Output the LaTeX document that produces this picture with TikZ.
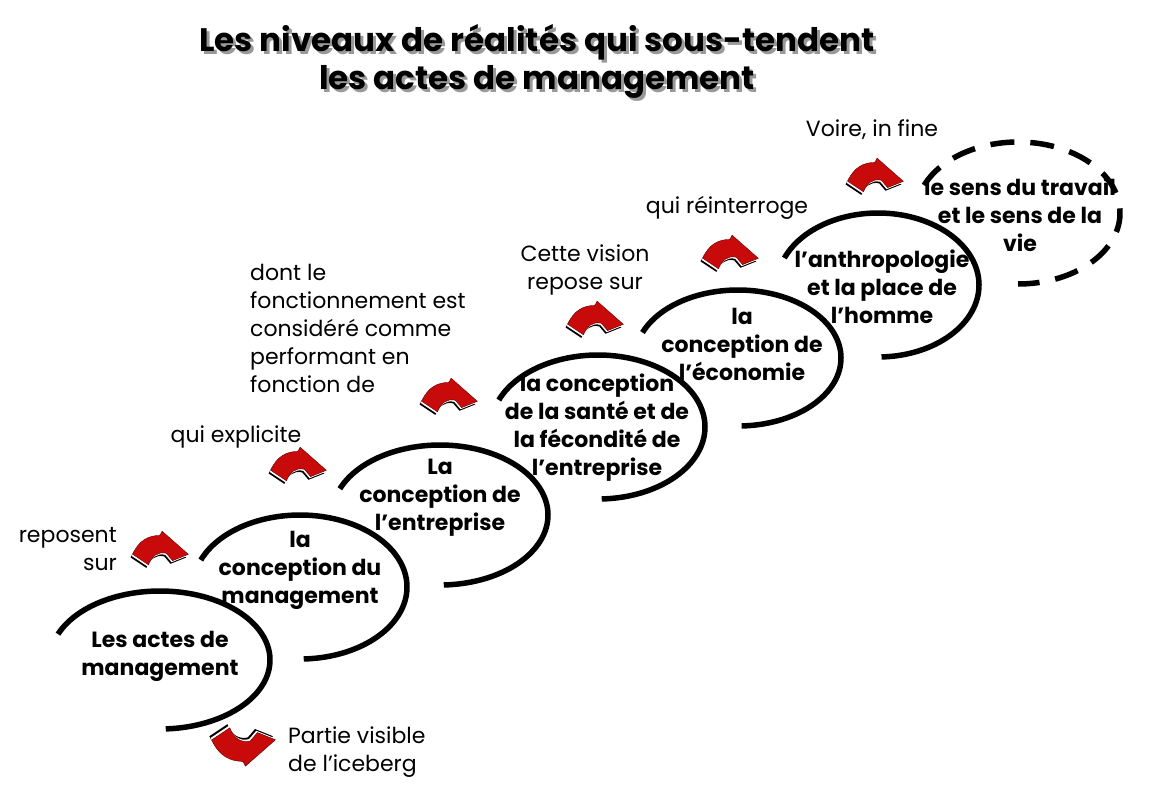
\documentclass[tikz,border=0pt]{standalone}
\usepackage{fontspec}
\setmainfont{Poppins}
\definecolor{arrred}{RGB}{200,10,10}
\tikzset{
  lbl/.style={font=\fontsize{22}{28}\selectfont, inner sep=0pt},
  bx/.style={font=\bfseries\fontsize{22}{28}\selectfont, align=center, inner sep=0pt},
  arcline/.style={line width=5.5pt},
  dashline/.style={line width=5.5pt, dash pattern=on 24pt off 16pt},
  ttl/.style={font=\bfseries\fontsize{32.5}{38}\selectfont, align=center, inner sep=0pt},
  redarrow/.pic={
    \begin{scope}[shift={(-2,3)}]
      \fill[black] (-26,6) .. controls (-20,-8) and (-10,-12) .. (0,-12) -- (2,-16) -- (27,6) -- (12,12) -- (6,5) .. controls (-2,3) and (-8,8) .. (-11,16) -- cycle;
    \end{scope}
    \begin{scope}[shift={(-1,1.5)}]
      \fill[white] (-26,6) .. controls (-20,-8) and (-10,-12) .. (0,-12) -- (2,-16) -- (27,6) -- (12,12) -- (6,5) .. controls (-2,3) and (-8,8) .. (-11,16) -- cycle;
    \end{scope}
    \fill[arrred, draw=red!40!black, line width=0.4pt] (-26,6) .. controls (-20,-8) and (-10,-12) .. (0,-12) -- (2,-16) -- (27,6) -- (12,12) -- (6,5) .. controls (-2,3) and (-8,8) .. (-11,16) -- cycle;
  }
}
\newcommand{\ellarc}[7]{% style, cx, cy, rx, ry, a1, a2
  \draw[#1] plot[domain=#6:#7, samples=90, smooth] ({#2+#4*cos(\x)}, {#3+#5*sin(\x)});}
\begin{document}
\begin{tikzpicture}[x=1pt, y=-1pt]
\useasboundingbox (0,0) rectangle (1155,797);
\fill[white] (0,0) rectangle (1155,797);

% title
\node[ttl, text=black!40] (titleshadow) at (540,64) {Les niveaux de réalités qui sous-tendent\\les actes de management};
\node[ttl] (title) at (537,61) {Les niveaux de réalités qui sous-tendent\\les actes de management};

% arcs
\ellarc{arcline}{160}{660}{110}{69}{-158}{87}
\ellarc{arcline}{300}{587}{107}{72}{-158}{88}
\ellarc{arcline}{440}{515}{108}{70}{-158}{88}
\ellarc{arcline}{598}{427}{107}{72}{-158}{88}
\ellarc{arcline}{738}{358}{103}{68}{-158}{88}
\ellarc{arcline}{878}{285}{101}{72}{-158}{88}
\ellarc{dashline}{1018}{213}{102}{71}{-157}{90}

% boxed texts
\node[bx] (n1) at (160,656) {Les actes de\\management};
\node[bx] (n2) at (300,570) {la\\conception du\\management};
\node[bx] (n3) at (440,498) {La\\conception de\\l’entreprise};
\node[bx] (n4) at (597,428) {la conception\\de la santé et de\\la fécondité de\\l’entreprise};
\node[bx] (n5) at (742,344) {la\\conception de\\l’économie};
\node[bx] (n6) at (882,287) {l’anthropologie\\et la place de\\l’homme};
\node[bx] (n7) at (1020,215) {le sens du travail\\et le sens de la\\vie};

% labels
\node[lbl, align=right, anchor=east] (l1) at (117,549) {reposent\\sur};
\node[lbl] (l2) at (236,437) {qui explicite};
\node[lbl, align=left, anchor=west] (l3) at (250,328) {dont le\\fonctionnement est\\considéré comme\\performant en\\fonction de};
\node[lbl, align=center] (l4) at (585,270) {Cette vision\\repose sur};
\node[lbl] (l5) at (727,208) {qui réinterroge};
\node[lbl] (l6) at (872,130) {Voire, in fine};
\node[lbl, align=left, anchor=west] (l7) at (288,752) {Partie visible\\de l’iceberg};

% red arrows
\pic[scale=1.05] (a1) at (160,548) {redarrow};
\pic[scale=1.05] (a2) at (298,464) {redarrow};
\pic[scale=1.05] (a3) at (449,395) {redarrow};
\pic[scale=1.05] (a4) at (595,318) {redarrow};
\pic[scale=1.05] (a5) at (730,252) {redarrow};
\pic[scale=1.05] (a6) at (875,175) {redarrow};
\pic[yscale=-1, scale=1.2] (a7) at (243,747) {redarrow};
\end{tikzpicture}
\end{document}
